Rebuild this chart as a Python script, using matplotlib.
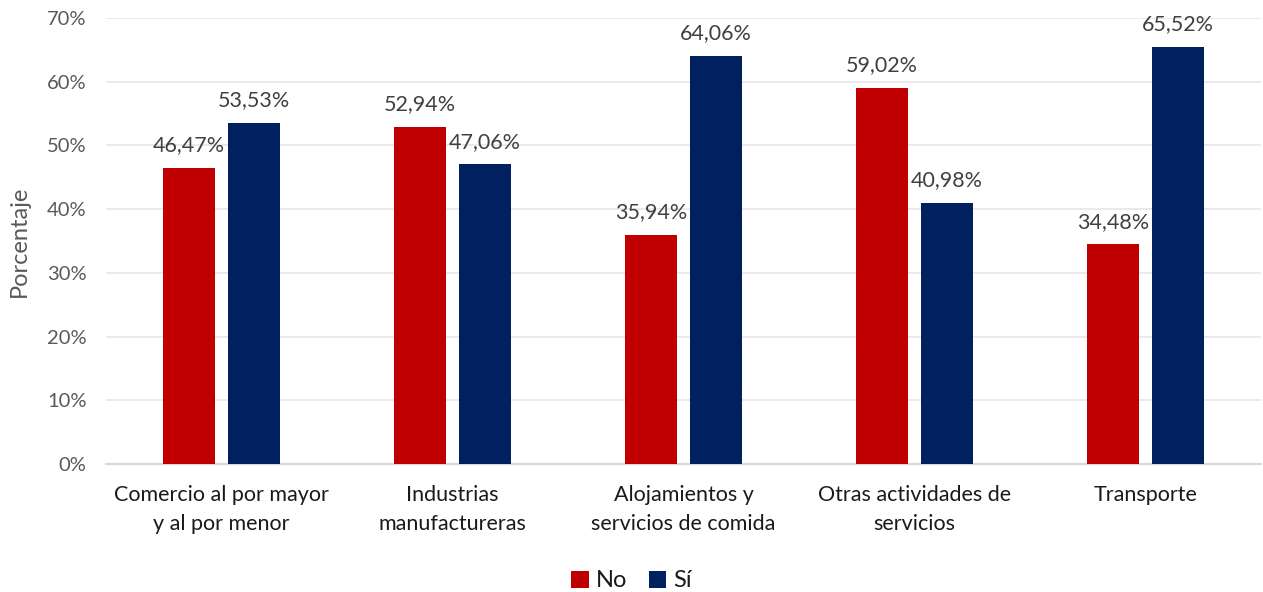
import numpy as np
import matplotlib.pyplot as plt
from matplotlib.ticker import FuncFormatter

categories = ['Comercio al por mayor\ny al por menor', 'Industrias\nmanufactureras',
              'Alojamientos y\nservicios de comida', 'Otras actividades de\nservicios',
              'Transporte']
no_vals = [46.47, 52.94, 35.94, 59.02, 34.48]
si_vals = [53.53, 47.06, 64.06, 40.98, 65.52]

plt.rcParams['font.family'] = ['Lato', 'DejaVu Sans']

fig = plt.figure(figsize=(12.63, 5.92), dpi=100)
ax = fig.add_axes([106 / 1263, 1 - 464 / 592, (1261 - 106) / 1263, (464 - 18) / 592])

x = np.arange(len(categories))
w = 0.225
off = 0.141
b1 = ax.bar(x - off, no_vals, w, color='#C00000', label='No', zorder=3)
b2 = ax.bar(x + off, si_vals, w, color='#002060', label='Sí', zorder=3)

for bars in (b1, b2):
    for r in bars:
        v = r.get_height()
        ax.annotate(f'{v:.2f}%'.replace('.', ','), (r.get_x() + r.get_width() / 2, v),
                    xytext=(0, 9), textcoords='offset points', ha='center', va='bottom',
                    fontsize=15.5, color='#404040')

ax.set_xlim(-0.5, 4.5)
ax.set_ylim(0, 70)
ax.set_yticks(range(0, 71, 10))
ax.yaxis.set_major_formatter(FuncFormatter(lambda v, p: f'{v:.0f}%'))
ax.set_xticks(x)
ax.set_xticklabels(categories, fontsize=15.5, color='#1a1a1a', linespacing=1.55)
ax.tick_params(axis='y', labelsize=14.5, labelcolor='#595959', length=0, pad=14)
ax.tick_params(axis='x', length=0, pad=15)
ax.grid(axis='y', color='#E8E4F0', linewidth=1.2, zorder=0)
for s in ('top', 'right', 'left'):
    ax.spines[s].set_visible(False)
ax.spines['bottom'].set_color('#D9D9D9')
ax.spines['bottom'].set_linewidth(1.5)
ax.set_ylabel('Porcentaje', fontsize=17, color='#595959', labelpad=12)

fig.legend(loc='lower center', bbox_to_anchor=(0.5, -0.035), ncol=2, frameon=False,
           fontsize=17, handlelength=0.75, handleheight=0.75, handletextpad=0.3,
           columnspacing=0.9, labelcolor='#1a1a1a')

fig.savefig('out.png', dpi=100)
